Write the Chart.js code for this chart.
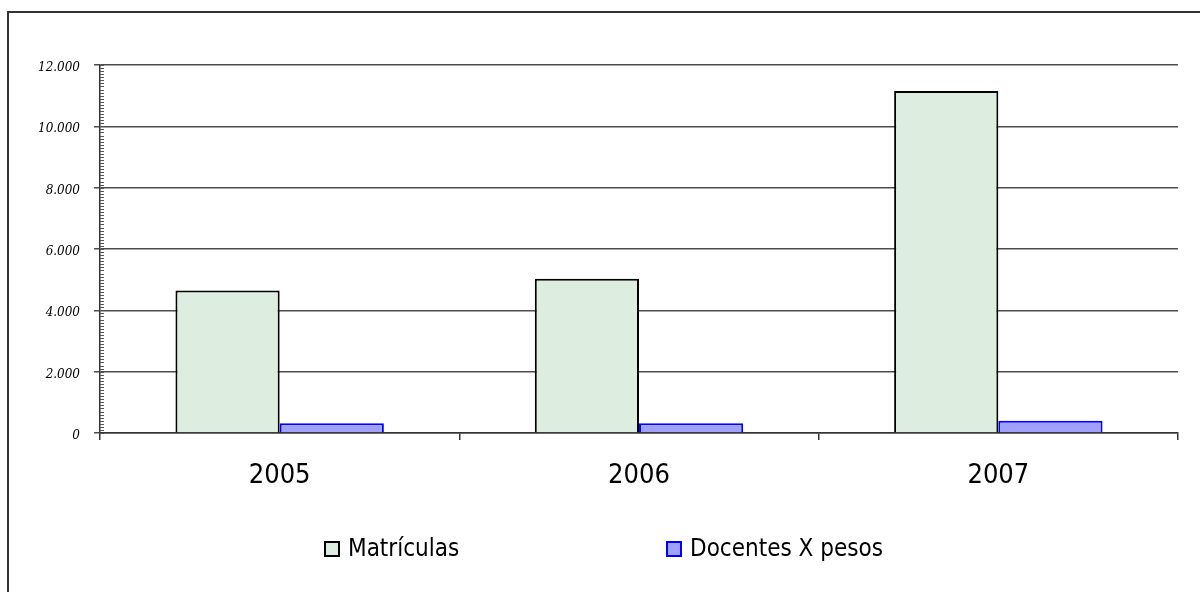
<!DOCTYPE html>
<html>
<head>
<meta charset="utf-8">
<style>
  html, body { margin: 0; padding: 0; background: #fff; }
  #c { display: block; }
</style>
<script src="https://cdn.jsdelivr.net/npm/chart.js@4.4.1/dist/chart.umd.min.js"></script>
</head>
<body>
<canvas id="c" width="1200" height="592"></canvas>
<script>
// ---- data ----
const categories = ['2005', '2006', '2007'];
const matriculas = [4650, 5030, 11150];
const docentes = [320, 315, 400];
const seriesNames = ['Matrículas', 'Docentes X pesos'];
const yTicks = [0, 2000, 4000, 6000, 8000, 10000, 12000];
const minorStep = 100;

function fmt(v) {
  return String(v).replace(/\B(?=(\d{3})+(?!\d))/g, '.');
}

const framePlugin = {
  id: 'frame',
  beforeDraw(chart) {
    const ctx = chart.ctx;
    ctx.save();
    ctx.strokeStyle = '#333';
    ctx.lineWidth = 2;
    ctx.beginPath();
    ctx.moveTo(8, 592);
    ctx.lineTo(8, 12);
    ctx.lineTo(1200, 12);
    ctx.stroke();
    ctx.restore();
  }
};

const minorTicksPlugin = {
  id: 'minorTicks',
  afterDraw(chart) {
    const y = chart.scales.y;
    const ctx = chart.ctx;
    const x0 = chart.chartArea.left;
    ctx.save();
    ctx.strokeStyle = '#555';
    ctx.lineWidth = 1;
    ctx.beginPath();
    for (let v = y.min; v <= y.max; v += minorStep) {
      const py = Math.round(y.getPixelForValue(v)) + 0.5;
      ctx.moveTo(x0, py);
      ctx.lineTo(x0 + 4, py);
    }
    ctx.stroke();
    ctx.restore();
  }
};

const legendPlugin = {
  id: 'customLegend',
  afterDraw(chart) {
    const ctx = chart.ctx;
    const ds = chart.data.datasets;
    const font = '24px "DejaVu Sans Condensed", "DejaVu Sans", sans-serif';
    ctx.save();
    ctx.font = font;
    ctx.textBaseline = 'middle';
    ctx.textAlign = 'left';
    const box = 16, gapText = 8;
    const boxX = [324, 666];
    const cy = 549;
    ds.forEach((d, i) => {
      const x = boxX[i];
      ctx.fillStyle = d.backgroundColor;
      ctx.fillRect(x, cy - box / 2, box, box);
      ctx.strokeStyle = d.borderColor;
      ctx.lineWidth = 2;
      ctx.strokeRect(x + 1, cy - box / 2 + 1, box - 2, box - 2);
      ctx.fillStyle = '#000';
      ctx.fillText(d.label, x + box + gapText, cy + 1);
    });
    ctx.restore();
  }
};

new Chart(document.getElementById('c'), {
  type: 'bar',
  data: {
    labels: categories,
    datasets: [
      {
        label: seriesNames[0],
        data: matriculas,
        backgroundColor: '#DDEDDF',
        borderColor: '#000000',
        borderWidth: 2,
        borderSkipped: 'bottom'
      },
      {
        label: seriesNames[1],
        data: docentes,
        backgroundColor: '#A0A0FF',
        borderColor: '#0000FF',
        borderWidth: 2,
        borderSkipped: 'bottom'
      }
    ]
  },
  options: {
    responsive: false,
    animation: false,
    events: [],
    layout: { padding: { top: 65, right: 22, left: 0, bottom: 0 } },
    datasets: { bar: { categoryPercentage: 0.58, barPercentage: 1.0 } },
    plugins: {
      legend: { display: false },
      tooltip: { enabled: false }
    },
    scales: {
      x: {
        afterFit(s) { s.height = 159; },
        grid: {
          display: true,
          drawOnChartArea: false,
          drawTicks: true,
          tickLength: 7,
          color: '#333',
          lineWidth: 1.5,
          offset: true
        },
        border: { display: true, color: '#333', width: 1.5 },
        ticks: {
          color: '#000',
          padding: 20,
          font: { family: '"DejaVu Sans Condensed", "DejaVu Sans", sans-serif', size: 27 }
        }
      },
      y: {
        min: 0,
        max: 12000,
        afterFit(s) { s.width = 100; },
        afterBuildTicks(s) { s.ticks = yTicks.map(v => ({ value: v })); },
        grid: {
          color: '#4d4d4d',
          lineWidth: 1.5,
          drawTicks: true,
          tickLength: 6
        },
        border: { display: true, color: '#333', width: 1.5 },
        ticks: {
          color: '#000',
          padding: 14,
          labelOffset: 3,
          font: { family: '"DejaVu Serif", serif', size: 12, style: 'italic' },
          callback: (v) => fmt(v)
        }
      }
    }
  },
  plugins: [framePlugin, minorTicksPlugin, legendPlugin]
});
</script>
</body>
</html>
